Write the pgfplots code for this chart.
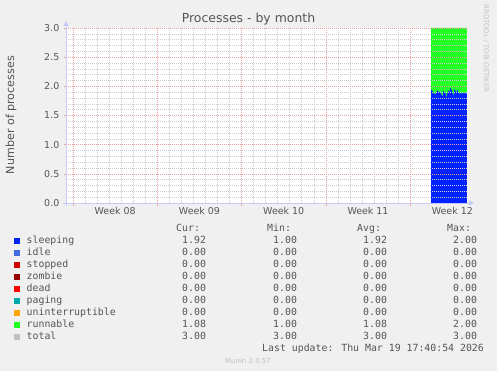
\documentclass[border=0pt]{standalone}
\usepackage{pgfplots}
\pgfplotsset{compat=1.18}
\usepackage{pgfplotstable}
\usepackage{fontspec}
\setmainfont{DejaVu Sans}
\newfontfamily\mono{DejaVu Sans Mono}
\usetikzlibrary{arrows.meta}
\definecolor{bgc}{RGB}{240,240,240}
\definecolor{txt}{RGB}{85,85,85}
\definecolor{mgrid}{RGB}{236,160,160}
\definecolor{ngrid}{RGB}{205,205,205}
\definecolor{axc}{RGB}{196,202,250}
\definecolor{sleepc}{HTML}{0022FF}
\definecolor{idlec}{HTML}{4169E1}
\definecolor{stopc}{HTML}{CC0000}
\definecolor{zombc}{HTML}{990000}
\definecolor{deadc}{HTML}{FF0000}
\definecolor{pagec}{HTML}{00AAAA}
\definecolor{uninc}{HTML}{FFA500}
\definecolor{runc}{HTML}{22FF22}
\definecolor{totc}{HTML}{C0C0C0}
\pgfplotstableread{
x s r
29.730 1.94 1.06
29.813 1.92 1.08
29.897 1.88 1.12
29.980 1.88 1.12
30.063 1.87 1.13
30.147 1.89 1.11
30.230 1.93 1.07
30.313 1.91 1.09
30.397 1.90 1.10
30.480 1.91 1.09
30.563 1.86 1.14
30.647 1.84 1.16
30.730 1.92 1.08
30.813 1.90 1.10
30.897 1.88 1.12
30.980 1.83 1.17
31.063 1.89 1.11
31.147 1.93 1.07
31.230 1.91 1.09
31.313 1.97 1.03
31.397 1.94 1.06
31.480 1.90 1.10
31.563 1.86 1.14
31.647 1.95 1.05
31.730 1.92 1.08
31.813 1.90 1.10
31.897 1.94 1.06
31.980 1.90 1.10
32.063 1.88 1.12
32.147 1.89 1.11
32.230 1.88 1.12
32.313 1.89 1.11
32.397 1.88 1.12
32.480 1.89 1.11
32.563 1.88 1.12
32.647 1.88 1.12
32.700 1.88 1.12
}\procdata
\begin{document}
\begin{tikzpicture}[x=1bp,y=1bp]
\fill[bgc] (0,0) rectangle (497,371);
\begin{axis}[
  name=ax,
  at={(66bp,168bp)}, anchor=south west,
  scale only axis, width=401bp, height=175bp,
  xmin=-0.58, xmax=32.72, ymin=0, ymax=3,
  axis background/.style={fill=white},
  axis on top,
  axis line style={draw=none},
  grid=both,
  major grid style={draw=mgrid, line width=0.6bp, dash pattern=on 1bp off 1bp},
  minor grid style={draw=ngrid, line width=0.6bp, dash pattern=on 1bp off 1bp},
  xtick={0,7,14,21,28}, xticklabels={}, minor x tick num=6,
  ytick={0,0.5,1,1.5,2,2.5,3}, minor y tick num=4,
  extra x ticks={3.5,10.5,17.5,24.5,31.5},
  extra x tick labels={Week 08,Week 09,Week 10,Week 11,Week 12},
  extra x tick style={grid=none, major tick length=0pt},
  tickpos=left, tick align=outside,
  major tick length=2.5bp, minor tick length=0pt,
  major tick style={draw=mgrid, line width=0.6bp},
  /pgf/number format/assume math mode=true,
  yticklabel={\pgfmathprintnumber[fixed,fixed zerofill,precision=1]{\tick}},
  yticklabel style={font=\fontsize{9.5}{10}\selectfont, text=txt, anchor=east, inner sep=0pt, xshift=-4bp},
  xticklabel style={font=\fontsize{9.5}{10}\selectfont, text=txt, anchor=north, inner sep=0pt, yshift=-4bp},
  stack plots=y,
]
\addplot[fill=sleepc, draw=none, const plot] table[x=x,y=s]{\procdata} \closedcycle;
\addplot[fill=runc, draw=none, const plot] table[x=x,y=r]{\procdata} \closedcycle;
\end{axis}
% axis lines with arrows
\draw[axc, line width=1bp, -{Triangle[width=5bp,length=5bp]}] ([xshift=-3bp]ax.south west) -- ([xshift=7bp]ax.south east);
\draw[axc, line width=1bp, -{Triangle[width=5bp,length=5bp]}] ([yshift=-3bp]ax.south west) -- ([yshift=7bp]ax.north west);
% title & labels
\node[text=txt, font=\fontsize{12.5}{13}\selectfont] at (248.5,352) {Processes - by month};
\node[text=txt, font=\fontsize{11.2}{12}\selectfont, rotate=90] at (11,256) {Number of processes};
\node[text=totc, font=\fontsize{6.8}{7}\selectfont, rotate=-90] at (486,322.5) {RRDTOOL / TOBI OETIKER};
% legend
\begin{scope}[every node/.style={anchor=base west, inner sep=0pt, text=txt, font=\mono\fontsize{9.9}{10}\selectfont}]
\node at (176,140) {Cur:};
\node at (267,140) {Min:};
\node at (357,140) {Avg:};
\node at (447,140) {Max:};
\foreach \n/\c/\cur/\mn/\av/\mx [count=\i from 0] in {
  sleeping/sleepc/1.92/1.00/1.92/2.00,
  idle/idlec/0.00/0.00/0.00/0.00,
  stopped/stopc/0.00/0.00/0.00/0.00,
  zombie/zombc/0.00/0.00/0.00/0.00,
  dead/deadc/0.00/0.00/0.00/0.00,
  paging/pagec/0.00/0.00/0.00/0.00,
  uninterruptible/uninc/0.00/0.00/0.00/0.00,
  runnable/runc/1.08/1.00/1.08/2.00,
  total/totc/3.00/3.00/3.00/3.00}{
  \pgfmathsetmacro{\yb}{127.5-12*\i}
  \fill[\c] (14,\yb) rectangle (20,\yb+6);
  \node at (26.5,\yb) {\n};
  \node at (182,\yb) {\cur};
  \node at (273,\yb) {\mn};
  \node at (363,\yb) {\av};
  \node at (453,\yb) {\mx};
}
\node at (262,20) {Last update: Thu Mar 19 17:40:54 2026};
\end{scope}
\node[anchor=base, inner sep=0pt, text=totc, font=\fontsize{7}{8}\selectfont] at (248,8) {Munin 2.0.57};
\end{tikzpicture}
\end{document}
